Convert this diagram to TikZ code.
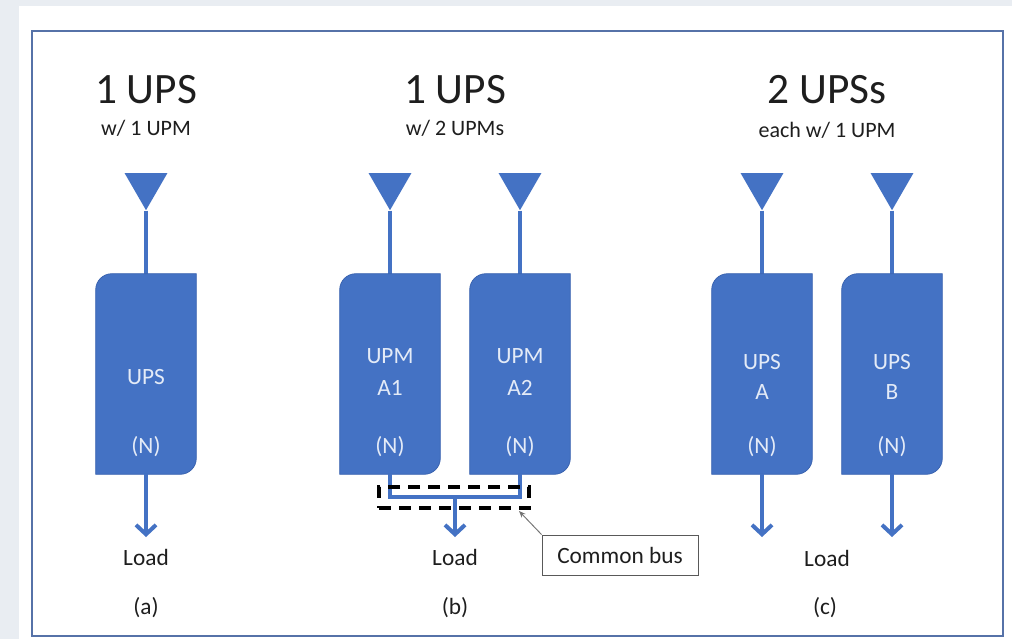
\documentclass[tikz,border=0pt]{standalone}
\usepackage{fontspec}
\setmainfont{Carlito}
\usetikzlibrary{shapes.geometric,arrows.meta,calc}
\definecolor{pagebg}{HTML}{E9EDF2}
\definecolor{framecol}{HTML}{5672A8}
\definecolor{boxblue}{HTML}{4472C4}
\definecolor{boxedge}{HTML}{3B64B0}
\definecolor{boxtext}{HTML}{E4EBF7}
\definecolor{ink}{HTML}{1E1E1E}
\newcommand\bodyshape[1]{%
  \filldraw[fill=boxblue,draw=boxedge,line width=0.6pt]
  let \p1=(#1.north west), \p2=(#1.south east) in
  (\x1,\y2) -- (\x1,\y1-12pt) .. controls (\x1,\y1-5.4pt) and (\x1+5.4pt,\y1) .. (\x1+12pt,\y1)
  -- (\x2,\y1) -- (\x2,\y2+12pt) .. controls (\x2,\y2+5.4pt) and (\x2-5.4pt,\y2) .. (\x2-12pt,\y2) -- cycle;}
\begin{document}
\begin{tikzpicture}[x=0.75pt,y=-0.75pt,
  ttl/.style={text=ink,font=\fontsize{32.5}{34}\selectfont,inner sep=0pt},
  subttl/.style={text=ink,font=\fontsize{16.5}{18}\selectfont,inner sep=0pt},
  lbl/.style={text=ink,font=\fontsize{17.5}{20}\selectfont,inner sep=0pt},
  inlbl/.style={text=boxtext,font=\fontsize{17.5}{20}\selectfont,inner sep=0pt},
  upsbody/.style={minimum width=75pt,minimum height=150pt,inner sep=0pt},
  feed/.style={regular polygon,regular polygon sides=3,shape border rotate=180,fill=boxblue,minimum size=37.2pt,inner sep=0pt},
  wire/.style={draw=boxblue,line width=3pt},
  loadarrow/.style={wire,-{Straight Barb[length=7pt,width=15pt]}},
]
% background and frame
\fill[pagebg] (0,0) rectangle (1012,639);
\fill[white] (19,6) rectangle (1012,639);
\draw[framecol,line width=1.6pt] (32,31) rectangle (1003,636);

% titles
\node[ttl] (ta) at (146,90) {1 UPS};
\node[subttl] (sa) at (146,128) {w/ 1 UPM};
\node[ttl] (tb) at (455,90) {1 UPS};
\node[subttl] (sb) at (455,128) {w/ 2 UPMs};
\node[ttl] (tc) at (827,90) {2 UPSs};
\node[subttl] (sc) at (827,130) {each w/ 1 UPM};

% feeds
\node[feed] (fa) at (146,185.4) {};
\node[feed] (fa1) at (390,185.4) {};
\node[feed] (fa2) at (520,185.4) {};
\node[feed] (fA) at (762,185.4) {};
\node[feed] (fB) at (892,185.4) {};

% bodies
\node[upsbody] (ba) at (146,374) {};
\node[upsbody] (ba1) at (390,374) {};
\node[upsbody] (ba2) at (520,374) {};
\node[upsbody] (bA) at (762,374) {};
\node[upsbody] (bB) at (892,374) {};

\draw[wire] (fa.south) -- (ba.north);
\draw[wire] (fa1.south) -- (ba1.north);
\draw[wire] (fa2.south) -- (ba2.north);
\draw[wire] (fA.south) -- (bA.north);
\draw[wire] (fB.south) -- (bB.north);

\bodyshape{ba}
\bodyshape{ba1}
\bodyshape{ba2}
\bodyshape{bA}
\bodyshape{bB}

% body texts
\node[inlbl] (ia) at (146,377) {UPS};
\node[inlbl] (na) at (146,447) {(N)};
\node[inlbl] (ia1) at (390,356) {UPM};
\node[inlbl] (ja1) at (390,388) {A1};
\node[inlbl] (na1) at (390,447) {(N)};
\node[inlbl] (ia2) at (520,356) {UPM};
\node[inlbl] (ja2) at (520,388) {A2};
\node[inlbl] (na2) at (520,447) {(N)};
\node[inlbl] (iA) at (762,362) {UPS};
\node[inlbl] (jA) at (762,392) {A};
\node[inlbl] (nA) at (762,447) {(N)};
\node[inlbl] (iB) at (892,362) {UPS};
\node[inlbl] (jB) at (892,392) {B};
\node[inlbl] (nB) at (892,447) {(N)};

% outputs
\coordinate (ea) at (146,537);
\coordinate (busmid) at (455,497);
\coordinate (eb) at (455,537);
\coordinate (eA) at (762,537);
\coordinate (eB) at (892,537);
\draw[loadarrow] (ba.south) -- (ea);
\draw[wire] (ba1.south) |- (busmid) -| (ba2.south);
\draw[loadarrow] (busmid) -- (eb);
\draw[loadarrow] (bA.south) -- (eA);
\draw[loadarrow] (bB.south) -- (eB);

% common bus
\node[draw=black,line width=2.3pt,dash pattern=on 9pt off 6pt,minimum width=112.5pt,minimum height=15.75pt,inner sep=0pt] (busbox) at (454,497.5) {};
\node[lbl,draw=black!65,line width=0.7pt,fill=white,minimum width=117pt,minimum height=30pt] (cb) at (620,555) {Common bus};
\coordinate (ptr) at (519,511);
\draw[black!55,line width=0.7pt,-{Stealth[length=5pt,width=4pt]}] (cb.north west) -- (ptr);

% loads and captions
\node[lbl] (la) at (146,557) {Load};
\node[lbl] (lb) at (455,557) {Load};
\node[lbl] (lc) at (827,558) {Load};
\node[lbl] (ca) at (146,608) {(a)};
\node[lbl] (cbb) at (455,608) {(b)};
\node[lbl] (cc) at (825,608) {(c)};
\end{tikzpicture}
\end{document}
